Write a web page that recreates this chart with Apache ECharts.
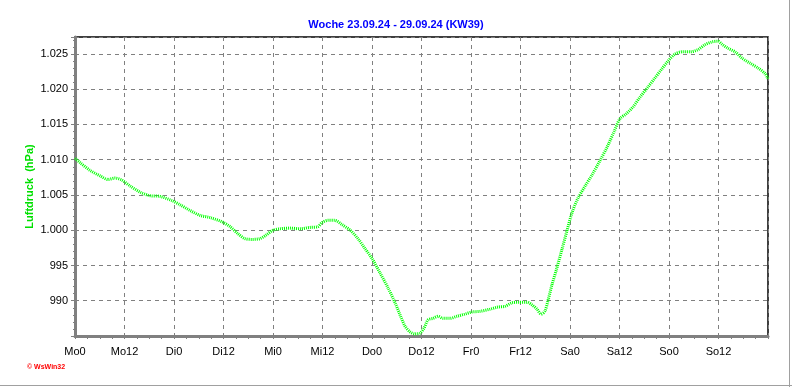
<!DOCTYPE html>
<html>
<head>
<meta charset="utf-8">
<script src="https://cdn.jsdelivr.net/npm/echarts@6/dist/echarts.min.js"></script>
<style>html,body{margin:0;padding:0;background:#fff}#c{width:792px;height:387px}</style>
</head>
<body>
<div id="c"></div>
<script>
// Hours since Monday 00:00
const hours = [0,1.2,3.6,6.1,8,9.7,11.4,13.3,15.8,18.2,20.6,23.5,25.5,27.9,30.3,32.7,35.6,37.6,39.5,41.2,42.9,44.8,46.3,48,49.7,52.1,54.5,57,58.9,59.9,61.3,63,64.7,66.7,68.6,70.3,72,73.9,75.9,77.6,78.8,80,81.2,82.4,83.6,84.6,85.6,86.8,88,89.2,90.9,92.6,94.5,96.2,98.2,100.6,102.5,104.2,105.9,107.9,109.6,110.8,112,113,113.9,114.7,115.6,116.8,118.1,119.3,120.5,121.9,123.6,125.3,127.3,129,130.7,132.1,133.6,135.3,137,138.9,140.6,142.3,143.8,145.5,147.2,149.1,151,152.7,154.4,155.9,156.8,158.3,160,161.7,163.6,165.6,167.3,168];
// Air pressure (hPa)
const pressure = [1010.2,1009.6,1008.5,1007.7,1007.2,1007.4,1007.1,1006.3,1005.4,1004.9,1004.8,1004.2,1003.6,1002.8,1002.1,1001.8,1001.2,1000.5,999.5,998.8,998.7,998.8,999.3,1000.0,1000.2,1000.3,1000.2,1000.4,1000.5,1001.1,1001.4,1001.4,1000.8,1000.0,998.8,997.4,996.0,994.0,991.8,989.7,988.0,986.4,985.6,985.3,985.4,986.1,987.3,987.5,987.8,987.5,987.5,987.8,988.1,988.4,988.5,988.8,989.1,989.2,989.7,989.8,989.8,989.4,988.8,988.1,988.5,990.1,992.2,994.6,997.4,1000.0,1002.5,1004.5,1006.2,1007.8,1009.9,1011.8,1014.0,1015.8,1016.5,1017.5,1018.9,1020.3,1021.6,1022.9,1024.0,1025.0,1025.3,1025.3,1025.6,1026.3,1026.7,1026.8,1026.4,1025.8,1025.3,1024.4,1023.7,1023.0,1022.2,1021.5];
// x tick labels every 12 hours
const xTickLabels = ['Mo0','Mo12','Di0','Di12','Mi0','Mi12','Do0','Do12','Fr0','Fr12','Sa0','Sa12','So0','So12'];
const yTickValues = [990,995,1000,1005,1010,1015,1020,1025];

const titleText = 'Woche 23.09.24 - 29.09.24 (KW39)';
const yName = 'Luftdruck  (hPa)';

const chart = echarts.init(document.getElementById('c'), null, {renderer:'canvas'});
const font = 'Liberation Sans, Arial, sans-serif';

chart.setOption({
  animation: false,
  backgroundColor: '#ffffff',
  title: {
    text: titleText, left: 'center', top: 14,
    textStyle: {color:'#0000ff', fontSize: 11, fontWeight:'bold', fontFamily: font}
  },
  grid: {left: 75, right: 24, top: 37, bottom: 51, show: true, borderColor:'#000', borderWidth: 1.5, backgroundColor:'transparent'},
  xAxis: {
    type: 'value', min: 0, max: 168, interval: 12,
    axisLine: {show: true, onZero: false, lineStyle: {color:'#808080', width: 3}},
    axisTick: {show: true, length: 3, lineStyle:{color:'#808080'}},
    minorTick: {show: true, splitNumber: 4, length: 3, lineStyle:{color:'#808080'}},
    splitLine: {show: true, lineStyle: {color:'#808080', type:[4,4], width:1}},
    axisLabel: {
      color:'#000', fontSize: 11, fontFamily: font, margin: 10,
      formatter: v => { const i = Math.round(v/12); return i < xTickLabels.length ? xTickLabels[i] : ''; }
    }
  },
  yAxis: {
    type: 'value', min: 985, max: 1027.4, interval: 5,
    name: yName, nameLocation: 'middle', nameRotate: 90, nameGap: 40, nameMoveOverlap: false,
    nameTextStyle: {color:'#00e000', fontSize: 11, fontWeight:'bold', fontFamily: font},
    axisLine: {show: true, onZero: false, lineStyle: {color:'#808080', width: 3}},
    axisTick: {show: true, length: 4, lineStyle:{color:'#808080'}},
    minorTick: {show: true, splitNumber: 5, length: 2, lineStyle:{color:'#808080'}},
    splitLine: {show: true, lineStyle: {color:'#808080', type:[4,4], width:1}},
    axisLabel: {
      color:'#000', fontSize: 11, fontFamily: font, margin: 7,
      formatter: v => {
        if (yTickValues.indexOf(v) < 0) return '';
        if (v >= 1000) return '1.' + String(v - 1000).padStart(3, '0');
        return String(v);
      }
    }
  },
  series: [{
    type: 'line', data: hours.map((h,i) => [h, pressure[i]]),
    showSymbol: false, smooth: 0.3, clip: true,
    lineStyle: {color:'#00ff00', width: 3, type: [1,1]}
  }],
  graphic: [
    {type:'text', left: 27, top: 364, style:{text:'\u00a9 WsWin32', fill:'#ff0000', font:'bold 7px ' + font}},
    {type:'line', shape:{x1:789.5, y1:0, x2:789.5, y2:387}, style:{stroke:'#a0a0a0', lineWidth:1}},
    {type:'line', shape:{x1:0, y1:385.5, x2:792, y2:385.5}, style:{stroke:'#a0a0a0', lineWidth:1}}
  ]
});
</script>
</body>
</html>
